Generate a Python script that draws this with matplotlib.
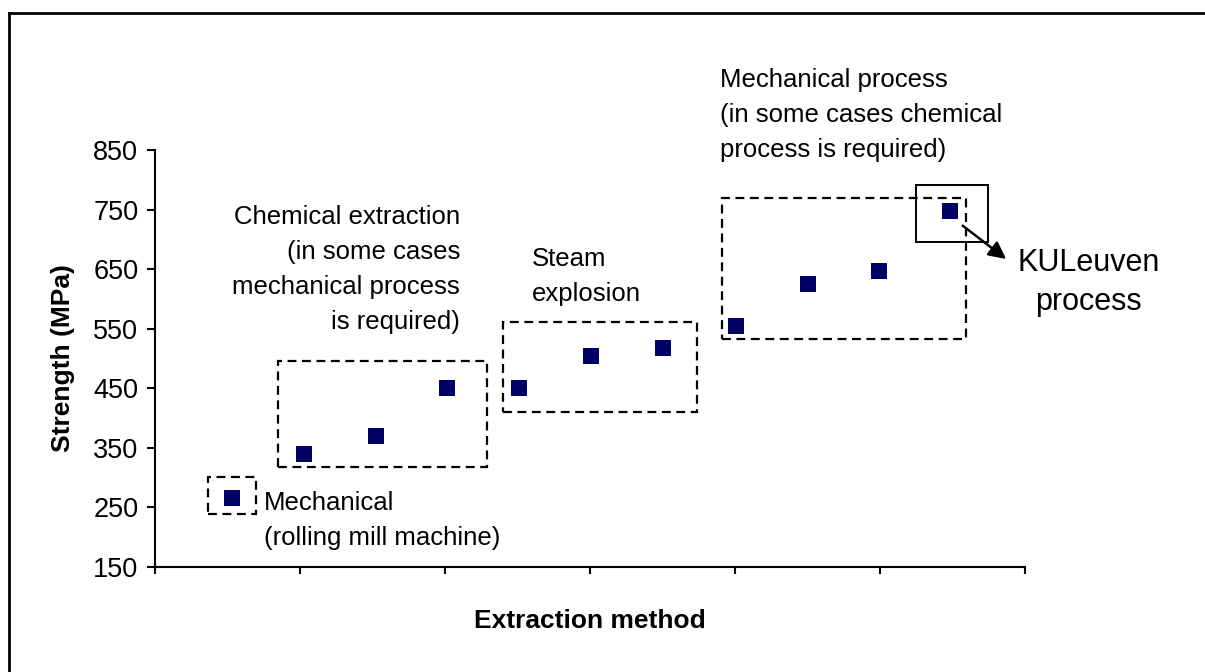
import matplotlib
matplotlib.use("Agg")
import matplotlib.pyplot as plt
from matplotlib.lines import Line2D
from matplotlib.patches import Rectangle

plt.rcParams["font.family"] = ["Liberation Sans", "DejaVu Sans"]

# fibre samples, left to right along the x axis
sample_pos = [1.06, 2.06, 3.05, 4.03, 5.02, 6.01, 7.0, 8.01, 9.01, 9.98, 10.97]
strength = [265, 340, 370, 450, 450, 505, 518, 555, 625, 647, 748]

y_ticks = [150, 250, 350, 450, 550, 650, 750, 850]
x_ticks = [0, 2, 4, 6, 8, 10, 12]

# dashed group boxes: (x0, x1, y0, y1) in data units
group_boxes = [
    (0.73, 1.39, 239, 301),
    (1.70, 4.58, 318, 496),
    (4.80, 7.48, 410, 561),
    (7.82, 11.19, 533, 769),
]
kul_box = (10.50, 11.49, 696, 791)

MARK = "#000066"

fig = plt.figure(figsize=(12.05, 6.72), dpi=100)
ax = fig.add_axes([155 / 1205, 105 / 672, 870 / 1205, 417 / 672])

ax.plot(sample_pos, strength, linestyle="none", marker="s",
        markersize=11.5, color=MARK, markeredgewidth=0)

for x0, x1, y0, y1 in group_boxes:
    ax.add_patch(Rectangle((x0, y0), x1 - x0, y1 - y0, fill=False,
                           edgecolor="black", linewidth=1.6,
                           linestyle=(0, (4, 2.5)), clip_on=False))
x0, x1, y0, y1 = kul_box
ax.add_patch(Rectangle((x0, y0), x1 - x0, y1 - y0, fill=False,
                       edgecolor="black", linewidth=1.4, clip_on=False))
ax.annotate("", xy=(11.74, 667), xytext=(11.14, 723),
            arrowprops=dict(arrowstyle="-|>", color="black", lw=1.8,
                            mutation_scale=26, shrinkA=0, shrinkB=0),
            annotation_clip=False)

fs = 18.5
ls = 1.58
ax.text(4.21, 757, "Chemical extraction\n(in some cases\nmechanical process\nis required)",
        ha="right", va="top", fontsize=fs, linespacing=ls, multialignment="right")
ax.text(1.50, 277, "Mechanical\n(rolling mill machine)", ha="left", va="top",
        fontsize=fs, linespacing=ls)
ax.text(5.20, 687, "Steam\nexplosion", ha="left", va="top",
        fontsize=fs, linespacing=ls)
ax.text(7.79, 988, "Mechanical process\n(in some cases chemical\nprocess is required)",
        ha="left", va="top", fontsize=fs, linespacing=ls, clip_on=False)
ax.text(12.88, 685, "KULeuven\nprocess", ha="center", va="top",
        fontsize=22, linespacing=1.4, multialignment="center", clip_on=False)

ax.set_xlim(0, 12)
ax.set_ylim(150, 850)
ax.set_yticks(y_ticks)
ax.set_xticks(x_ticks)
ax.set_xticklabels([])
ax.tick_params(axis="y", direction="out", length=6, width=1.5, pad=6,
               labelsize=19.5)
ax.tick_params(axis="x", direction="out", length=5, width=1.5)
for side in ("top", "right"):
    ax.spines[side].set_visible(False)
for side in ("left", "bottom"):
    ax.spines[side].set_linewidth(1.5)

ax.set_ylabel("Strength (MPa)", fontsize=19, fontweight="bold", labelpad=13)
ax.set_xlabel("Extraction method", fontsize=19, fontweight="bold", labelpad=22)

# outer frame (only left and top edges fall inside the image)
fig.add_artist(Line2D([9 / 1205, 9 / 1205], [0, 1 - 13 / 672], color="black",
                      linewidth=2, transform=fig.transFigure))
fig.add_artist(Line2D([9 / 1205, 1], [1 - 13 / 672, 1 - 13 / 672], color="black",
                      linewidth=2, transform=fig.transFigure))

fig.savefig("out.png", dpi=100)
